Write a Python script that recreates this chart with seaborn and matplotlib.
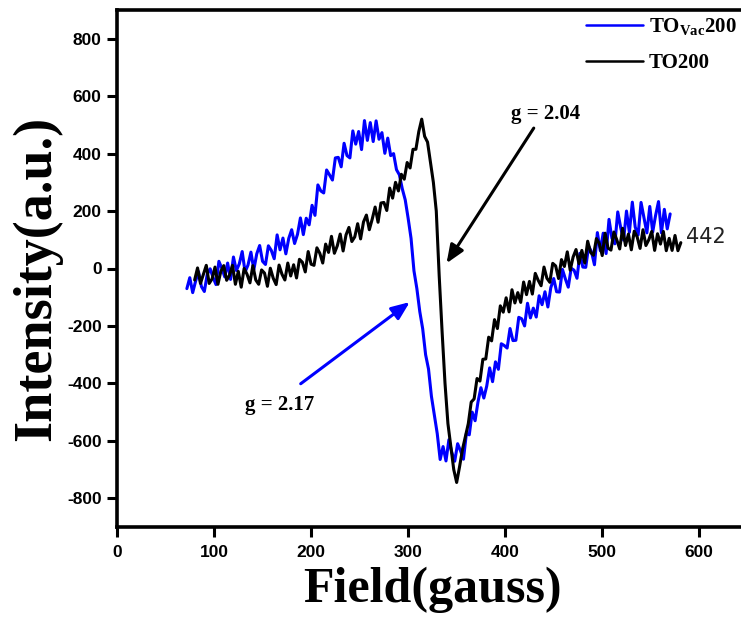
import numpy as np
import pandas as pd
import matplotlib
matplotlib.use("Agg")
import matplotlib.pyplot as plt
import seaborn as sns
from matplotlib.lines import Line2D

# ---------------- data ----------------
blue_start, blue_step = 72, 3
blue_vals = [-70, -32, -84, -44, -11, -63, -80, -20, -1, -31, -56, 25, 1, -29, 19, -38, 40, -7, 16, 59,
             -12, 12, 57, -4, 51, 80, 25, 14, 79, 63, 34, 117, 65, 106, 51, 105, 135, 87, 119, 176,
             118, 175, 152, 220, 185, 291, 270, 263, 343, 326, 308, 385, 387, 354, 436, 393, 385, 479, 433, 477,
             414, 515, 446, 508, 442, 514, 450, 473, 401, 454, 393, 400, 344, 326, 277, 239, 175, 105, -8, -70,
             -150, -210, -300, -350, -445, -510, -575, -665, -620, -670, -596, -640, -671, -610, -635, -664, -575, -579, -500, -530,
             -464, -415, -451, -409, -346, -394, -325, -351, -262, -268, -277, -209, -251, -250, -170, -175, -200, -121, -172, -138,
             -169, -95, -126, -81, -134, -67, -35, -81, -82, -3, -36, -65, 1, -6, -34, 53, 5, 4, 78, 57,
             13, 125, 62, 123, 52, 171, 105, 86, 197, 143, 99, 200, 126, 231, 144, 117, 230, 177, 124, 216,
             127, 185, 233, 124, 206, 138, 190]

black_start, black_step = 80, 3
black_vals = [-40, 2, -52, -20, 11, -52, -36, 5, -55, -10, 10, -41, -23, 11, -55, -10, -65, 0, -20, -50,
              10, -40, -55, -5, -16, -62, 1, -34, -56, 12, -20, -40, 19, -26, 13, -33, 32, 22, -12, 59,
              15, 11, 72, 53, 19, 85, 56, 112, 53, 79, 120, 61, 117, 143, 94, 110, 156, 103, 162, 186,
              135, 172, 214, 161, 228, 230, 202, 280, 245, 300, 270, 328, 311, 369, 350, 415, 415, 477, 520, 460,
              440, 370, 300, 200, -25, -220, -400, -540, -620, -700, -745, -690, -630, -585, -540, -465, -454, -383, -392, -316,
              -315, -239, -252, -178, -209, -130, -152, -102, -151, -74, -120, -84, -118, -47, -91, -45, -89, -17, -41, -60,
              5, -34, -48, 18, 9, -35, 31, 7, 58, -6, 40, 66, 17, 63, 19, 95, 56, 46, 104, 87,
              45, 123, 71, 64, 127, 100, 68, 140, 80, 120, 65, 130, 110, 70, 135, 80, 100, 129, 63, 121,
              85, 129, 62, 105, 63, 115, 62, 90]

series_names = ["TO$_{\\mathbf{Vac}}$200", "TO200"]
series_colors = ["#0000FF", "#000000"]

blue_field = blue_start + blue_step * np.arange(len(blue_vals))
black_field = black_start + black_step * np.arange(len(black_vals))

df = pd.concat([
    pd.DataFrame({"field": blue_field, "intensity": blue_vals, "series": series_names[0]}),
    pd.DataFrame({"field": black_field, "intensity": black_vals, "series": series_names[1]}),
], ignore_index=True)

x_ticks = [0, 100, 200, 300, 400, 500, 600]
y_ticks = [-800, -600, -400, -200, 0, 200, 400, 600, 800]

# ---------------- style ----------------
sns.set_style("ticks")
plt.rcParams["font.family"] = ["Liberation Sans", "DejaVu Sans"]
plt.rcParams["mathtext.fontset"] = "custom"
plt.rcParams["mathtext.rm"] = "Liberation Serif:bold"
plt.rcParams["mathtext.bf"] = "Liberation Serif:bold"
plt.rcParams["mathtext.it"] = "Liberation Serif:bold"
plt.rcParams["axes.unicode_minus"] = False
for k in ["text.color", "axes.labelcolor", "xtick.color", "ytick.color", "axes.edgecolor"]:
    plt.rcParams[k] = "black"

W, H = 741, 622
fig = plt.figure(figsize=(W / 100, H / 100), dpi=100)
ax = fig.add_axes([117 / W, 1 - 527 / H, (W - 117) / W, (527 - 10) / H])

sns.lineplot(data=df, x="field", y="intensity", hue="series", palette=series_colors,
             hue_order=series_names, estimator=None, sort=False, linewidth=2.2, ax=ax, legend=False)

ax.set_xlim(0, 643)
ax.set_ylim(-900, 900)
ax.set_xticks(x_ticks)
ax.set_yticks(y_ticks)
ax.tick_params(axis="both", direction="out", length=7, width=2.2, labelsize=12.5)
ax.tick_params(axis="y", pad=4)
ax.tick_params(axis="x", pad=6)
for lab in ax.get_xticklabels() + ax.get_yticklabels():
    lab.set_fontweight("bold")
for s in ["left", "bottom", "top"]:
    ax.spines[s].set_linewidth(2.6)
ax.spines["right"].set_visible(False)

serif_bold = dict(family="Liberation Serif", fontweight="bold")
ax.set_xlabel("Field(gauss)", fontsize=36, **serif_bold)
ax.set_ylabel("Intensity(a.u.)", fontsize=39, **serif_bold)
ax.xaxis.set_label_coords((432 - 117) / 624, (527 - 567) / 517)
ax.yaxis.set_label_coords((62 - 117) / 624, (527 - 278) / 517)

# legend
handles = [Line2D([], [], color=c, lw=1.8) for c in series_colors]
leg = ax.legend(handles, series_names, loc="upper left", bbox_to_anchor=(578 / W, 1 - 8 / H),
                bbox_transform=fig.transFigure, frameon=False, handlelength=2.7, handletextpad=0.3,
                labelspacing=0.75, borderaxespad=0, prop=dict(family="Liberation Serif", weight="bold", size=15))

# annotations
ax.annotate("", xy=(338, 10), xytext=(431, 497),
            arrowprops=dict(arrowstyle="-|>,head_length=1.1,head_width=0.45", color="black", lw=2.2))
ax.text(442, 537, "g = 2.04", fontsize=15, ha="center", va="center", color="black", **serif_bold)

ax.annotate("", xy=(304, -111), xytext=(187, -407),
            arrowprops=dict(arrowstyle="-|>,head_length=1.1,head_width=0.45", color="#0000FF", lw=2.2))
ax.text(168, -476, "g = 2.17", fontsize=15, ha="center", va="center", color="black", **serif_bold)

ax.text(586, 108, "442", fontsize=15, ha="left", va="center", family="DejaVu Sans", color="#222222")

fig.savefig("out.png", dpi=100)
